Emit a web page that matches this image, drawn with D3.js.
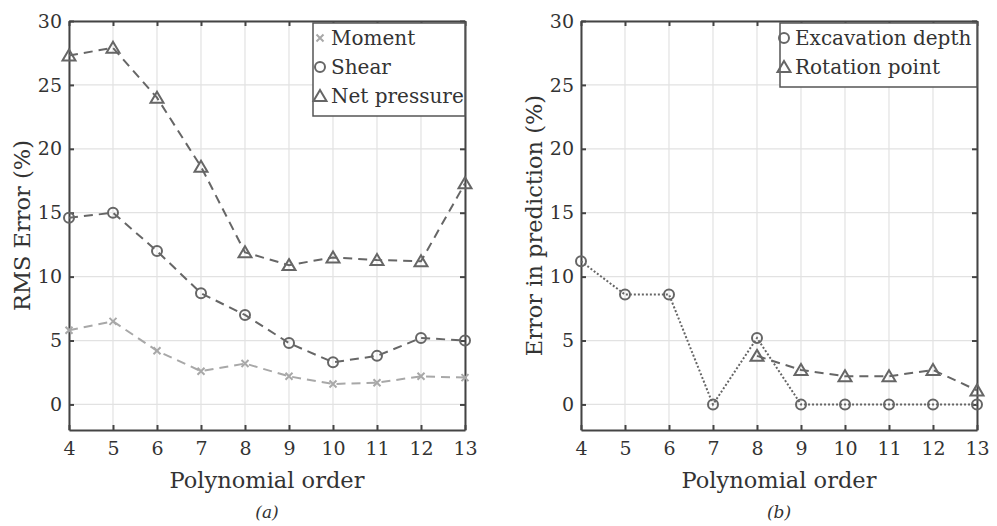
<!DOCTYPE html>
<html>
<head>
<meta charset="utf-8">
<script src="https://cdn.jsdelivr.net/npm/d3@7"></script>
<style>
  body { margin: 0; background: #fff; }
  text { font-family: "DejaVu Serif", serif; fill: #333; }
</style>
</head>
<body>
<svg id="chart" width="997" height="526"></svg>
<script>
"use strict";

// polynomial orders on the x axis
var orders = [4, 5, 6, 7, 8, 9, 10, 11, 12, 13];
var yTicks = [0, 5, 10, 15, 20, 25, 30];

// panel (a) : RMS error
var moment = [5.8, 6.5, 4.2, 2.6, 3.2, 2.2, 1.6, 1.7, 2.2, 2.1];
var shear = [14.6, 15.0, 12.0, 8.7, 7.0, 4.8, 3.3, 3.8, 5.2, 5.0];
var netPressure = [27.3, 27.9, 24.0, 18.6, 11.9, 10.9, 11.5, 11.3, 11.2, 17.3];

// panel (b) : error in prediction
var excavationDepth = [11.2, 8.6, 8.6, 0, 5.2, 0, 0, 0, 0, 0];
var rotationOrders = [8, 9, 10, 11, 12, 13];
var rotationPoint = [3.8, 2.7, 2.2, 2.2, 2.7, 1.1];

var svg = d3.select("#chart");
var plotTop = 21, plotBottom = 430;
var serif = "'DejaVu Serif', serif";

var y = d3.scaleLinear().domain([-2, 30]).range([plotBottom, plotTop]);

/**
 * Dessine un marqueur (x, o, triangle) centré sur (cx, cy)
 */
function drawMarker(g, type, cx, cy, color) {
  if (type == "cross") {
    g.append("path")
    .attr("d", `M${cx-3.5},${cy-3.5}L${cx+3.5},${cy+3.5}M${cx-3.5},${cy+3.5}L${cx+3.5},${cy-3.5}`)
    .style("stroke", color).style("stroke-width", 2).style("fill", "none");
  }
  else if (type == "circle") {
    g.append("circle")
    .attr("cx", cx).attr("cy", cy).attr("r", 5)
    .style("stroke", color).style("stroke-width", 2).style("fill", "none");
  }
  else {
    g.append("path")
    .attr("d", `M${cx},${cy-6}L${cx+6.5},${cy+5}L${cx-6.5},${cy+5}Z`)
    .style("stroke", color).style("stroke-width", 2).style("fill", "none")
    .style("stroke-linejoin", "miter");
  }
}

function createPanel(left, right, series, legendW, textX, ylabel, caption) {
  var x = d3.scaleLinear().domain([4, 13]).range([left, right]);
  var g = svg.append("g");

  // grille
  g.append("g").selectAll("line.v")
  .data(orders)
  .enter()
  .append("line")
  .attr("x1", d => x(d)).attr("x2", d => x(d))
  .attr("y1", plotTop).attr("y2", plotBottom)
  .style("stroke", "#e2e2e2").style("stroke-width", 1.2);

  g.append("g").selectAll("line.h")
  .data(yTicks)
  .enter()
  .append("line")
  .attr("x1", left).attr("x2", right)
  .attr("y1", d => y(d)).attr("y2", d => y(d))
  .style("stroke", "#e2e2e2").style("stroke-width", 1.2);

  // axes (ticks vers l'intérieur, sur les 4 côtés)
  var axes = [
    [d3.axisBottom(x).tickValues(orders).tickSize(-5).tickPadding(12), `translate(0,${plotBottom})`, true],
    [d3.axisTop(x).tickValues(orders).tickSize(-5), `translate(0,${plotTop})`, false],
    [d3.axisLeft(y).tickValues(yTicks).tickSize(-5).tickPadding(7), `translate(${left},0)`, true],
    [d3.axisRight(y).tickValues(yTicks).tickSize(-5), `translate(${right},0)`, false]
  ];
  axes.forEach(function(a) {
    var ag = g.append("g").attr("transform", a[1])
    .call(a[0].tickSizeOuter(0));
    ag.attr("font-family", serif);
    ag.select(".domain").style("stroke", "#444").style("stroke-width", 2);
    ag.selectAll(".tick line").style("stroke", "#444").style("stroke-width", 2);
    if (a[2]) {
      ag.selectAll(".tick text").style("font-size", "19px")
      .style("font-family", serif).attr("fill", "#333");
    } else {
      ag.selectAll(".tick text").remove();
    }
  });

  // séries
  series.forEach(function(s) {
    var pts = s.values.map((v, i) => [x(s.orders[i]), y(v)]);
    g.append("path")
    .attr("d", d3.line()(pts))
    .style("fill", "none")
    .style("stroke", s.color)
    .style("stroke-width", 2)
    .attr("stroke-dasharray", s.dash);
    pts.forEach(p => drawMarker(g, s.marker, p[0], p[1], s.color));
  });

  // légende
  var lh = 29;
  var lg = g.append("g").attr("transform", `translate(${right - legendW},${plotTop + 2})`);
  lg.append("rect")
  .attr("x", 0).attr("y", 0)
  .attr("width", legendW).attr("height", series.length * lh + 6)
  .style("fill", "white").style("stroke", "#555").style("stroke-width", 1.5);
  series.forEach(function(s, i) {
    var cy = 15 + i * lh;
    drawMarker(lg, s.marker, textX - 11, cy, s.color);
    lg.append("text")
    .attr("x", textX).attr("y", cy)
    .attr("dy", "0.35em")
    .style("font-family", serif)
    .style("font-size", "20px")
    .text(s.name);
  });

  // titres
  g.append("text")
  .attr("transform", `translate(${left - 39},${(plotTop + plotBottom) / 2}) rotate(-90)`)
  .attr("text-anchor", "middle")
  .style("font-family", serif)
  .style("font-size", "22.5px")
  .text(ylabel);

  g.append("text")
  .attr("x", (left + right) / 2).attr("y", 488)
  .attr("text-anchor", "middle")
  .style("font-family", serif)
  .style("font-size", "22.5px")
  .text("Polynomial order");

  g.append("text")
  .attr("x", (left + right) / 2).attr("y", 518)
  .attr("text-anchor", "middle")
  .style("font-family", serif)
  .style("font-size", "17px")
  .style("font-style", "italic")
  .text(caption);
}

createPanel(69, 465, [
  {name: "Moment", orders: orders, values: moment, color: "#a8a8a8", marker: "cross", dash: "9,6"},
  {name: "Shear", orders: orders, values: shear, color: "#666", marker: "circle", dash: "9,6"},
  {name: "Net pressure", orders: orders, values: netPressure, color: "#666", marker: "triangle", dash: "9,6"}
], 152, 18, "RMS Error (%)", "(a)");

createPanel(581, 977, [
  {name: "Excavation depth", orders: orders, values: excavationDepth, color: "#666", marker: "circle", dash: "2,2"},
  {name: "Rotation point", orders: rotationOrders, values: rotationPoint, color: "#666", marker: "triangle", dash: "9,6"}
], 197, 15, "Error in prediction (%)", "(b)");
</script>
</body>
</html>
